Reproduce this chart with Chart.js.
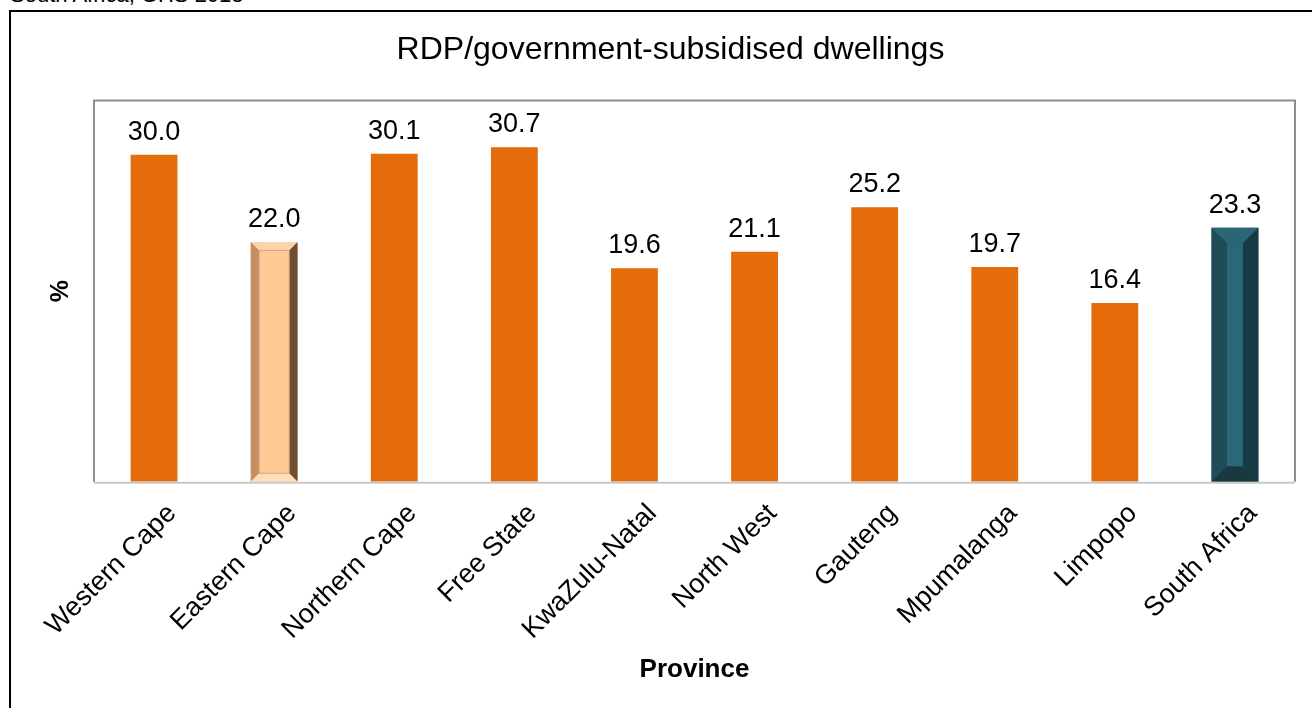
<!DOCTYPE html>
<html>
<head>
<meta charset="utf-8">
<script src="https://cdn.jsdelivr.net/npm/chart.js@4.4.1/dist/chart.umd.min.js"></script>
<style>
  html, body { margin: 0; padding: 0; background: #fff; overflow: hidden; }
  body { width: 1312px; height: 708px; position: relative; }
  .source {
    position: absolute; left: 10px; top: -18px;
    font: 22px "Liberation Sans", Arial, sans-serif; color: #000;
  }
  .frame {
    position: absolute; left: 9px; top: 10px; width: 1400px; height: 800px;
    border-left: 2px solid #000; border-top: 2px solid #000;
  }
  #wrap { position: absolute; left: 0; top: 0; width: 1334px; height: 708px; }
</style>
</head>
<body>
<div class="source">South Africa, GHS 2018</div>
<div class="frame"></div>
<div id="wrap"><canvas id="rdpChart"></canvas></div>
<script>
const provincias = ['Western Cape', 'Eastern Cape', 'Northern Cape', 'Free State', 'KwaZulu-Natal',
  'North West', 'Gauteng', 'Mpumalanga', 'Limpopo', 'South Africa'];
const porcentajes = [30.0, 22.0, 30.1, 30.7, 19.6, 21.1, 25.2, 19.7, 16.4, 23.3];
const yMax = 35;

const NARANJA = '#E46C0A';
const MELOCOTON = '#FFC996';
const VERDE_AZUL = '#215A68';

const coloresBarra = provincias.map((p) => {
  if (p === 'Eastern Cape') return MELOCOTON;
  if (p === 'South Africa') return VERDE_AZUL;
  return NARANJA;
});

const FUENTE = '"Liberation Sans", Arial, sans-serif';

// marco gris del area de trazado
const marcoPlugin = {
  id: 'marco',
  afterDraw(chart) {
    const { ctx, chartArea: a } = chart;
    ctx.save();
    ctx.strokeStyle = '#8e8e8e';
    ctx.lineWidth = 2;
    ctx.beginPath();
    ctx.moveTo(a.left, a.bottom);
    ctx.lineTo(a.left, a.top);
    ctx.lineTo(a.right, a.top);
    ctx.lineTo(a.right, a.bottom);
    ctx.stroke();
    ctx.strokeStyle = '#c8c8c8';
    ctx.beginPath();
    ctx.moveTo(a.left, a.bottom + 1);
    ctx.lineTo(a.right, a.bottom + 1);
    ctx.stroke();
    ctx.restore();
  }
};

// biselado para las barras destacadas
function trapecio(ctx, pts, color) {
  ctx.fillStyle = color;
  ctx.beginPath();
  ctx.moveTo(pts[0][0], pts[0][1]);
  for (let i = 1; i < pts.length; i++) ctx.lineTo(pts[i][0], pts[i][1]);
  ctx.closePath();
  ctx.fill();
}

const biselPlugin = {
  id: 'bisel',
  afterDatasetsDraw(chart) {
    const { ctx } = chart;
    const meta = chart.getDatasetMeta(0);
    meta.data.forEach((bar, i) => {
      const p = provincias[i];
      if (p !== 'Eastern Cape' && p !== 'South Africa') return;
      const l = bar.x - bar.width / 2;
      const r = bar.x + bar.width / 2;
      const t = bar.y;
      const b = bar.base;
      ctx.save();
      if (p === 'South Africa') {
        const d = bar.width * 0.33;
        trapecio(ctx, [[l, t], [r, t], [r - d, t + d], [l + d, t + d]], '#2B6674');
        trapecio(ctx, [[l, t], [l + d, t + d], [l + d, b - d], [l, b]], '#1E4D59');
        trapecio(ctx, [[r, t], [r, b], [r - d, b - d], [r - d, t + d]], '#173A43');
        trapecio(ctx, [[l, b], [l + d, b - d], [r - d, b - d], [r, b]], '#1A3840');
        ctx.fillStyle = '#2A6878';
        ctx.fillRect(l + d, t + d, r - l - 2 * d, b - t - 2 * d);
      } else {
        const d = bar.width * 0.18;
        trapecio(ctx, [[l, t], [r, t], [r - d, t + d], [l + d, t + d]], '#FBD3AC');
        trapecio(ctx, [[l, t], [l + d, t + d], [l + d, b - d], [l, b]], '#C48F64');
        trapecio(ctx, [[r, t], [r, b], [r - d, b - d], [r - d, t + d]], '#6E4E33');
        trapecio(ctx, [[l, b], [l + d, b - d], [r - d, b - d], [r, b]], '#FFDDB8');
        ctx.fillStyle = '#FFC996';
        ctx.fillRect(l + d, t + d, r - l - 2 * d, b - t - 2 * d);
        ctx.strokeStyle = '#D9A77A';
        ctx.lineWidth = 1;
        ctx.strokeRect(l + d, t + d, r - l - 2 * d, b - t - 2 * d);
      }
      ctx.restore();
    });
  }
};

// etiquetas con el valor encima de cada barra
const etiquetasPlugin = {
  id: 'etiquetas',
  afterDatasetsDraw(chart) {
    const { ctx } = chart;
    const meta = chart.getDatasetMeta(0);
    ctx.save();
    ctx.font = '27px ' + FUENTE;
    ctx.fillStyle = '#000';
    ctx.textAlign = 'center';
    ctx.textBaseline = 'alphabetic';
    meta.data.forEach((bar, i) => {
      ctx.fillText(porcentajes[i].toFixed(1), bar.x, bar.y - 15);
    });
    ctx.restore();
  }
};

new Chart(document.getElementById('rdpChart'), {
  type: 'bar',
  data: {
    labels: provincias,
    datasets: [{
      data: porcentajes,
      backgroundColor: coloresBarra,
      borderWidth: 0,
      barPercentage: 0.39,
      categoryPercentage: 1
    }]
  },
  options: {
    responsive: true,
    maintainAspectRatio: false,
    animation: false,
    layout: {
      padding: { top: 31, right: 39, bottom: 23, left: 46 }
    },
    scales: {
      x: {
        grid: { display: false },
        border: { display: false },
        ticks: {
          color: '#000',
          font: { family: FUENTE, size: 27 },
          maxRotation: 45,
          minRotation: 45,
          labelOffset: 18,
          padding: 8
        },
        title: {
          display: true,
          text: 'Province',
          color: '#000',
          font: { family: FUENTE, size: 26, weight: 'bold' },
          padding: { top: 0, bottom: 0 }
        }
      },
      y: {
        min: 0,
        max: yMax,
        grid: { display: false },
        border: { display: false },
        ticks: { display: false },
        title: {
          display: true,
          text: '%',
          color: '#000',
          font: { family: FUENTE, size: 25, weight: 'bold' },
          padding: { top: 0, bottom: 0 }
        },
        afterFit(scale) {
          scale.width = 48;
        }
      }
    },
    plugins: {
      legend: { display: false },
      tooltip: { enabled: false },
      title: {
        display: true,
        text: 'RDP/government-subsidised dwellings',
        color: '#000',
        font: { family: FUENTE, size: 32, weight: 'normal' },
        padding: { top: 0, bottom: 31 }
      }
    }
  },
  plugins: [marcoPlugin, biselPlugin, etiquetasPlugin]
});
</script>
</body>
</html>
